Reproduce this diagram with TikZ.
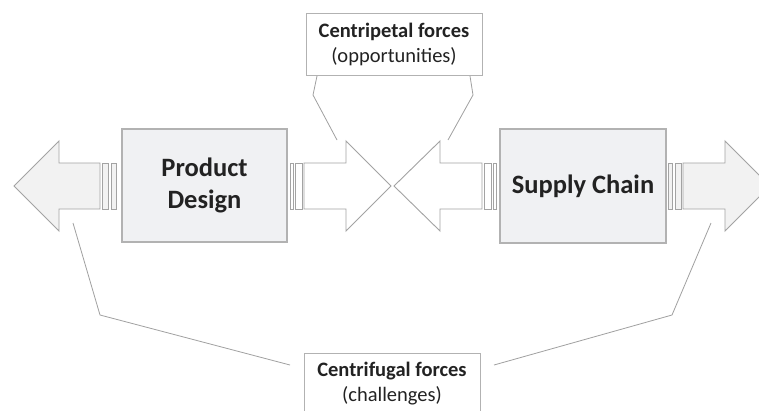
\documentclass[tikz,border=0pt]{standalone}
\usepackage{fontspec}
\setmainfont{Carlito}
\definecolor{boxfill}{HTML}{F0F1F3}
\definecolor{boxline}{HTML}{B2B2B2}
\definecolor{arrline}{HTML}{A3A3A3}
\definecolor{arrfill}{HTML}{F2F2F2}
\definecolor{txt}{HTML}{222222}
\definecolor{lead}{HTML}{A0A0A0}
\begin{document}
\begin{tikzpicture}[x=1pt,y=-1pt,
  mainbox/.style={draw=boxline,line width=2.6pt,fill=boxfill,text=txt,font=\fontsize{26.5}{32}\selectfont\bfseries,align=center,inner sep=0pt},
  callbox/.style={draw=boxline,line width=0.9pt,fill=white,text=txt,font=\fontsize{20.5}{25}\selectfont,align=center,inner sep=0pt,minimum width=176pt,minimum height=62pt},
  arrowshape/.style={draw=arrline,line width=0.9pt,line join=miter},
  leadline/.style={draw=lead,line width=0.8pt}]
\useasboundingbox (0,0) rectangle (759,410);
\fill[white] (0,0) rectangle (759,410);

% left outward arrow (gray)
\draw[arrowshape,fill=arrfill] (14,186) -- (59,141) -- (59,163) -- (100,163) -- (100,209) -- (59,209) -- (59,231) -- cycle;
\draw[arrowshape,fill=arrfill] (102,163) rectangle (108,209);
\draw[arrowshape,fill=arrfill] (111,163) rectangle (116,209);
% right inward arrow from Product Design (white)
\draw[arrowshape,fill=white] (391,186) -- (346,141) -- (346,163) -- (304,163) -- (304,209) -- (346,209) -- (346,231) -- cycle;
\draw[arrowshape,fill=white] (295,163) rectangle (302,209);
\draw[arrowshape,fill=white] (290,163) rectangle (293,209);
% left inward arrow to Supply Chain (white)
\draw[arrowshape,fill=white] (394,186) -- (440,141) -- (440,163) -- (482,163) -- (482,209) -- (440,209) -- (440,231) -- cycle;
\draw[arrowshape,fill=white] (484,163) rectangle (491,209);
\draw[arrowshape,fill=white] (493,163) rectangle (496,209);
% right outward arrow (gray)
\draw[arrowshape,fill=arrfill] (770,186) -- (725,141) -- (725,163) -- (683,163) -- (683,209) -- (725,209) -- (725,231) -- cycle;
\draw[arrowshape,fill=arrfill] (675,163) rectangle (681,209);
\draw[arrowshape,fill=arrfill] (668,163) rectangle (672,209);

% main boxes
\node[mainbox,minimum width=165pt,minimum height=113pt] (pd) at (204.5,185.5) {Product\\Design};
\node[mainbox,minimum width=166pt,minimum height=114pt] (sc) at (583,186) {Supply Chain};

% callout boxes
\node[callbox] (cp) at (394,44) {\textbf{Centripetal forces}\\(opportunities)};
\node[callbox] (cf) at (392,384) {\textbf{Centrifugal forces}\\(challenges)};

% leader lines
\coordinate (cpL1) at (317,76);
\coordinate (cpL2) at (313,95);
\coordinate (cpL3) at (337,140);
\coordinate (cpR1) at (470,76);
\coordinate (cpR2) at (473,95);
\coordinate (cpR3) at (448,140);
\draw[leadline] (cpL1) -- (cpL2) -- (cpL3);
\draw[leadline] (cpR1) -- (cpR2) -- (cpR3);

\coordinate (cfL1) at (290,365);
\coordinate (cfL2) at (100,315);
\coordinate (cfL3) at (73,223);
\coordinate (cfR1) at (494,365);
\coordinate (cfR2) at (672,315);
\coordinate (cfR3) at (711,223);
\draw[leadline] (cfL1) -- (cfL2) -- (cfL3);
\draw[leadline] (cfR1) -- (cfR2) -- (cfR3);
\end{tikzpicture}
\end{document}
